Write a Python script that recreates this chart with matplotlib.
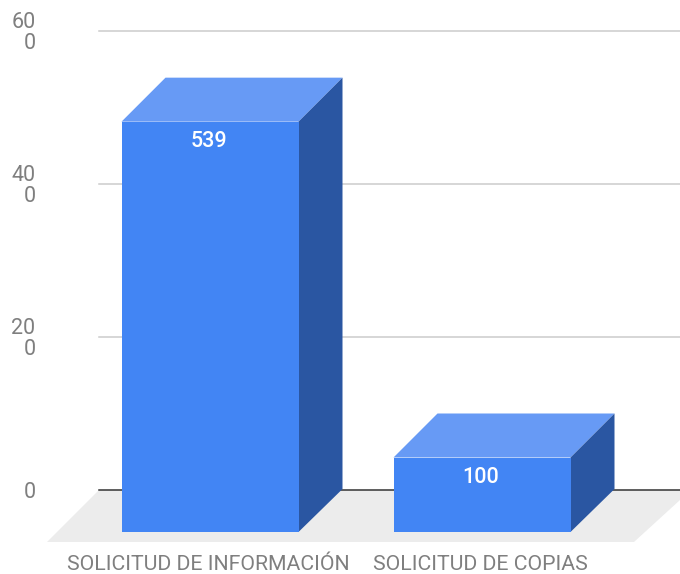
import matplotlib
matplotlib.use('Agg')
import matplotlib.pyplot as plt
from matplotlib.patches import Polygon

# Data
categories = ['SOLICITUD DE INFORMACIÓN', 'SOLICITUD DE COPIAS']
values = [539, 100]
tick_values = [0, 200, 400, 600]
tick_labels = ['0', '20\n0', '40\n0', '60\n0']

plt.rcParams['font.family'] = ['Roboto', 'DejaVu Sans']

W, H = 680, 574
Y_ZERO = 490      # pixel row of value 0
PX_PER_UNIT = 0.765


def py(px):
    # pixel row -> value
    return (Y_ZERO - px) / PX_PER_UNIT


def px_x(px):
    # pixel column -> category position
    return (px - 210) / 272


fig = plt.figure(figsize=(W / 100, H / 100), dpi=100)
ax = fig.add_axes([0, 0, 1, 1])
ax.set_xlim(px_x(0), px_x(W))
ax.set_ylim(py(H), py(0))
ax.patch.set_visible(False)
for s in ax.spines.values():
    s.set_visible(False)

# floor
floor = Polygon([(px_x(47), py(542)), (px_x(99), py(490)), (px_x(680), py(490)),
                 (px_x(680), py(500)), (px_x(634), py(542))],
                closed=True, fc='#ececec', ec='none', zorder=1)
ax.add_patch(floor)

# gridlines
for v in tick_values:
    if v == 0:
        ax.plot([px_x(99), px_x(680)], [v, v], color='#333333', lw=1.1, zorder=2)
    else:
        ax.plot([px_x(99), px_x(680)], [v, v], color='#cccccc', lw=1.1, zorder=2)

half = 88.5 / 272
dx = 44 / 272
dy = 44 / PX_PER_UNIT
base_front = py(532)

for i, (cat, val) in enumerate(zip(categories, values)):
    left, right = i - half, i + half
    top = val - dy
    # top face
    ax.add_patch(Polygon([(left, top), (left + dx, val), (right + dx, val), (right, top)],
                         closed=True, fc='#679af5', ec='none', zorder=3))
    # side face
    ax.add_patch(Polygon([(right, top), (right + dx, val), (right + dx, py(489)), (right, base_front)],
                         closed=True, fc='#2a56a2', ec='none', zorder=3))
    # front face
    ax.add_patch(Polygon([(left, base_front), (left, top), (right, top), (right, base_front)],
                         closed=True, fc='#4285f4', ec='none', zorder=4))
    ax.text(i - 0.004, top - 20 / PX_PER_UNIT, str(val), color='white', fontsize=15.5, fontweight='medium',
            ha='center', va='center', zorder=5)

ax.set_yticks(tick_values)
ax.set_yticklabels(tick_labels, linespacing=1.0)
ax.tick_params(axis='y', length=0, pad=-25.5, labelsize=15.5, labelcolor='#7f7f7f')
ax.set_xticks([i - 0.006 for i in range(len(categories))])
ax.set_xticklabels(categories)
ax.tick_params(axis='x', length=0, pad=-13.4, labelsize=15.3, labelcolor='#7f7f7f')

plt.savefig('out.png', dpi=100)
